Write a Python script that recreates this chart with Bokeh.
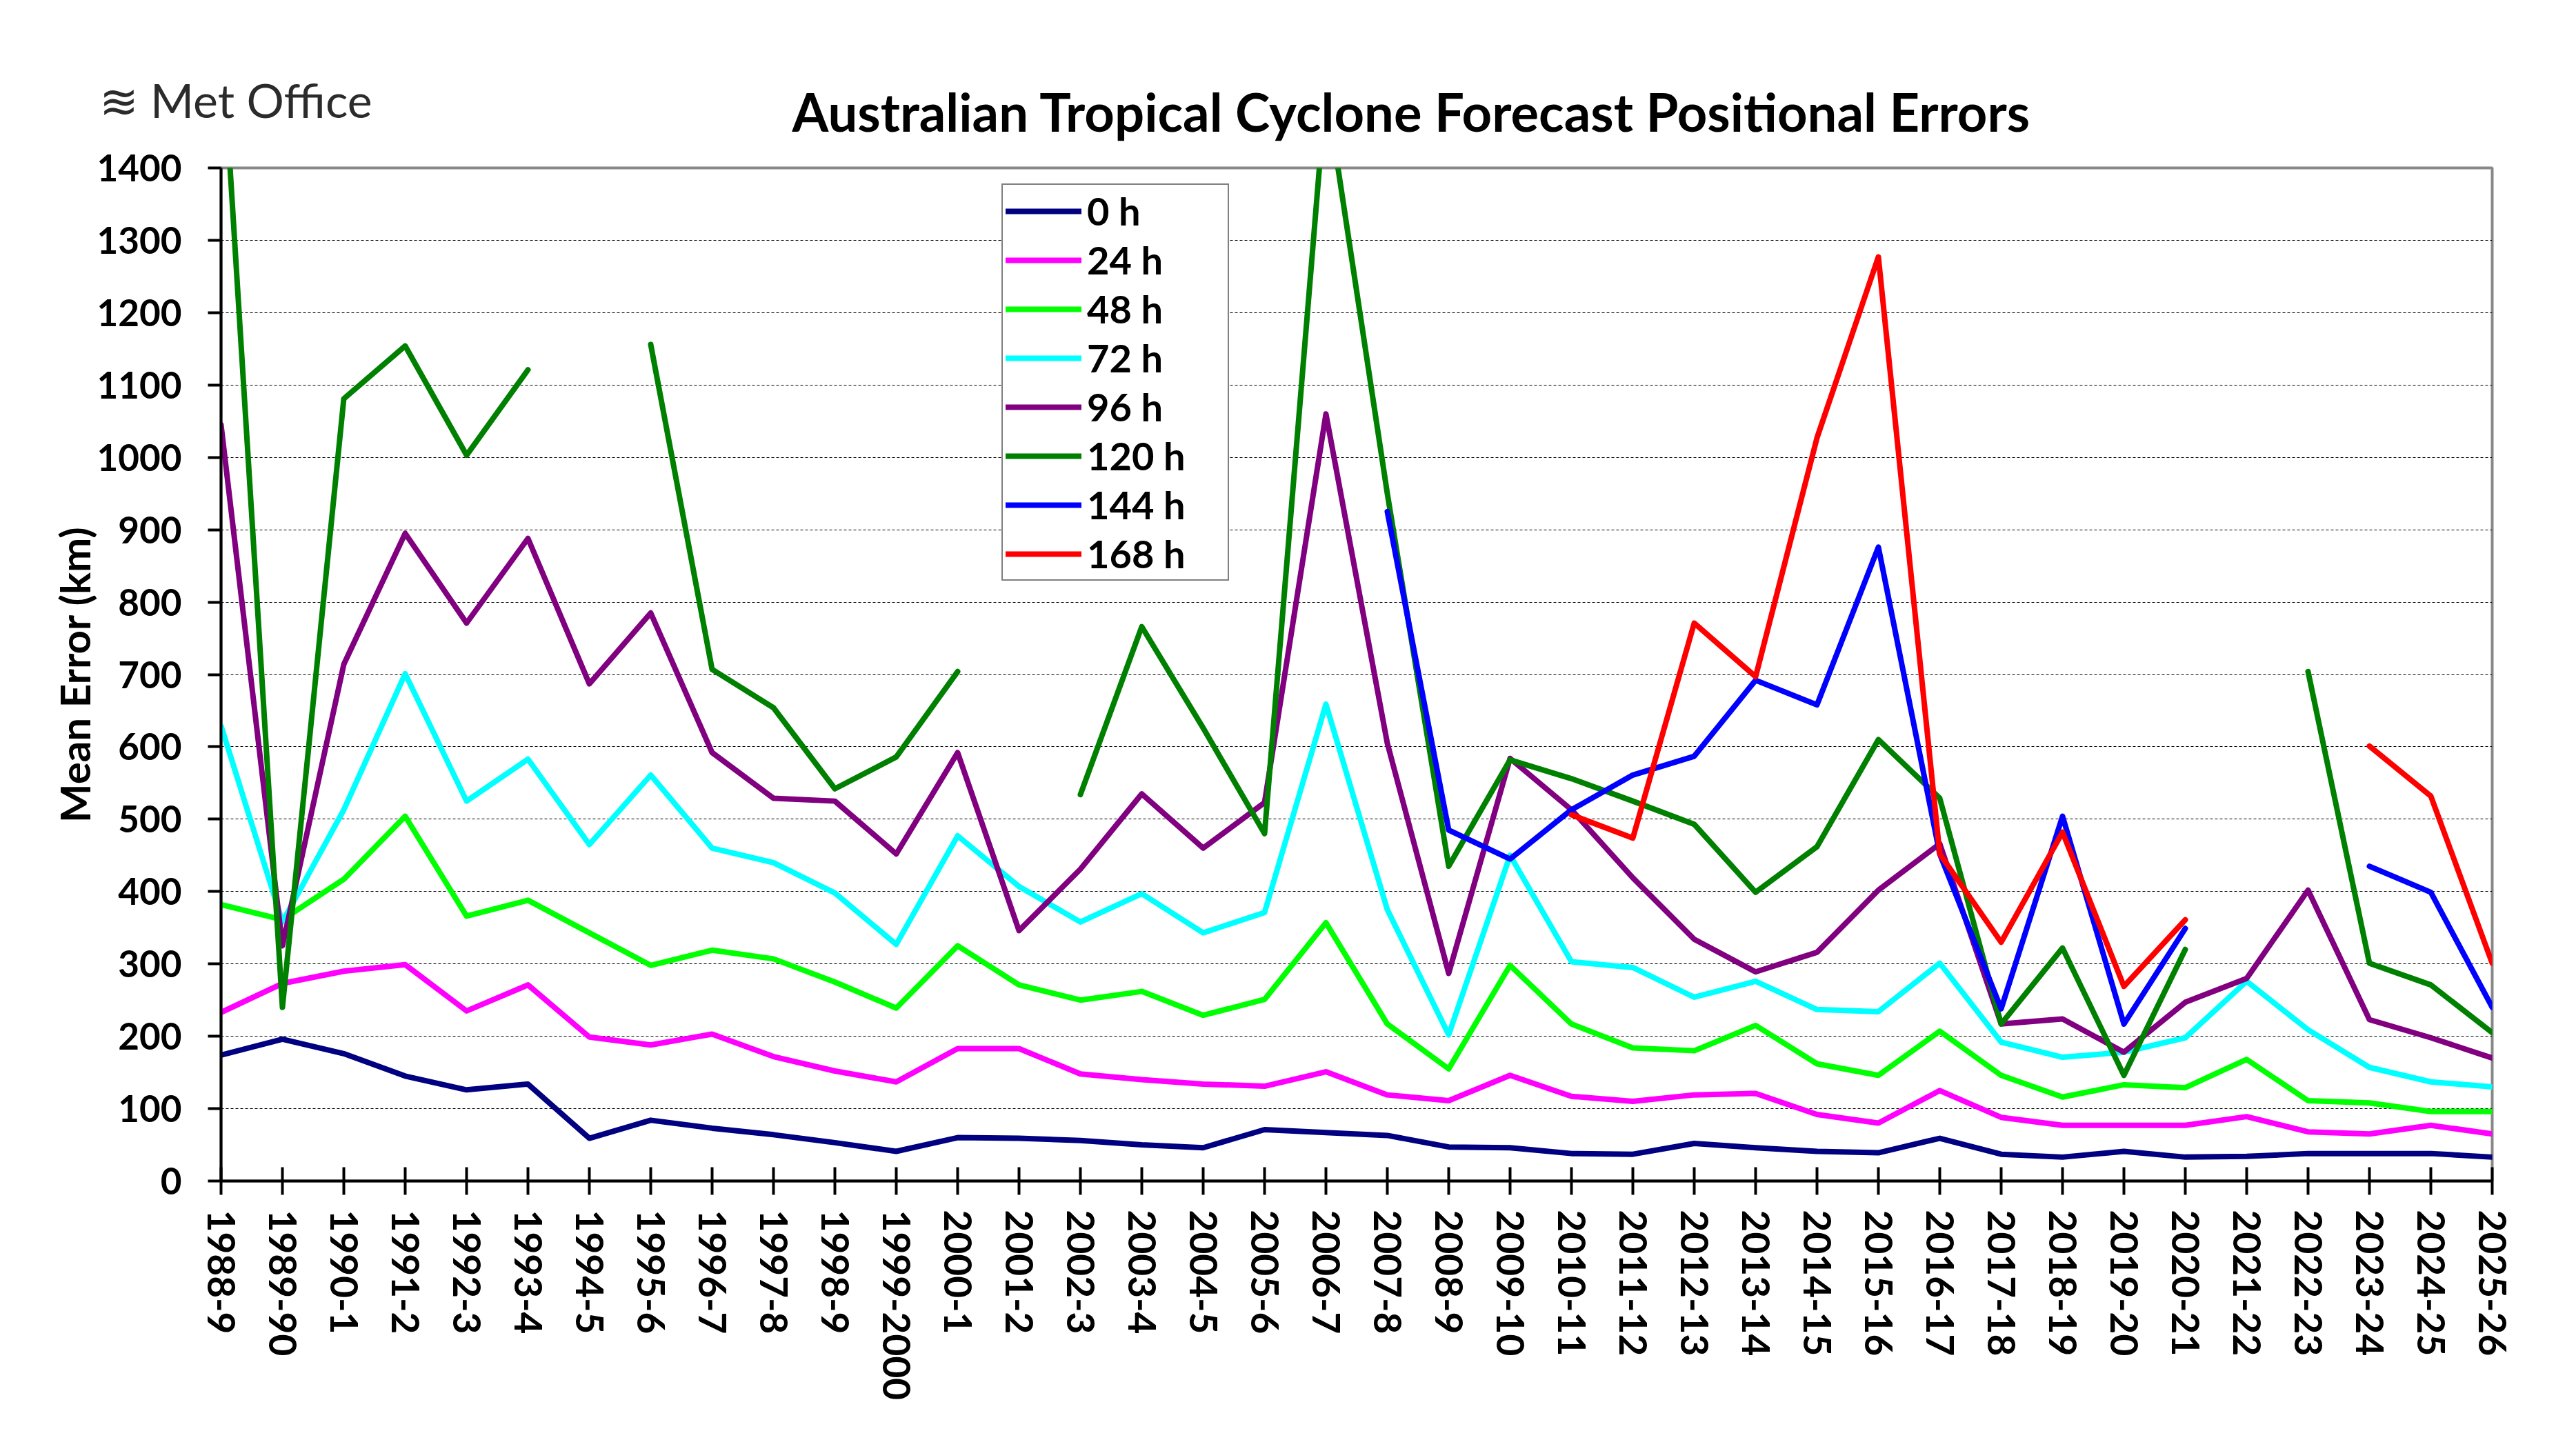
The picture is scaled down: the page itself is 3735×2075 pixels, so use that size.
import math
from bokeh.plotting import figure
from bokeh.models import Range1d, FixedTicker, Legend, LegendItem, Title, ColumnDataSource
from bokeh.embed import file_html
from bokeh.resources import INLINE

nan = float("nan")

seasons = ["1988-9", "1989-90", "1990-1", "1991-2", "1992-3", "1993-4", "1994-5",
           "1995-6", "1996-7", "1997-8", "1998-9", "1999-2000", "2000-1", "2001-2",
           "2002-3", "2003-4", "2004-5", "2005-6", "2006-7", "2007-8", "2008-9",
           "2009-10", "2010-11", "2011-12", "2012-13", "2013-14", "2014-15",
           "2015-16", "2016-17", "2017-18", "2018-19", "2019-20", "2020-21",
           "2021-22", "2022-23", "2023-24", "2024-25", "2025-26"]

err_0h = [174, 196, 176, 145, 126, 134, 59, 84, 73, 64, 53, 41, 60, 59, 56, 50, 46, 71, 67,
          63, 47, 46, 38, 37, 52, 46, 41, 39, 59, 37, 33, 41, 33, 34, 38, 38, 38, 33]
err_24h = [233, 273, 290, 299, 235, 271, 199, 188, 203, 172, 152, 137, 183, 183, 148, 140,
           134, 131, 151, 119, 111, 146, 117, 110, 119, 121, 92, 80, 125, 88, 77, 77, 77,
           89, 68, 65, 77, 65]
err_48h = [382, 361, 417, 504, 366, 388, 343, 298, 319, 307, 275, 239, 325, 271, 250, 262,
           229, 251, 357, 217, 155, 298, 217, 184, 180, 215, 162, 146, 207, 146, 116, 133,
           129, 168, 111, 108, 96, 96]
err_72h = [629, 358, 513, 701, 525, 583, 465, 561, 460, 440, 398, 327, 477, 407, 358, 397,
           343, 371, 659, 375, 202, 450, 303, 295, 254, 276, 237, 234, 301, 192, 171, 178,
           198, 276, 209, 157, 137, 130]
err_96h = [1045, 325, 714, 895, 771, 888, 687, 785, 592, 529, 525, 452, 592, 346, 431, 535,
           460, 523, 1060, 605, 287, 584, 513, 419, 334, 289, 316, 402, 466, 217, 224, 178,
           247, 280, 402, 223, 198, 170]
err_120h = [1600, 240, 1081, 1154, 1003, 1121, nan, 1156, 707, 654, 542, 586, 704, nan, 534,
            766, 626, 480, 1510, 950, 435, 582, 556, 525, 493, 399, 462, 610, 529, 217, 322,
            146, 320, nan, 704, 301, 271, 205]
err_144h = [nan] * 19 + [925, 485, 445, 513, 561, 587, 692, 658, 876, 452, 238, 504, 217,
                         349, nan, nan, 435, 399, 240]
err_168h = [nan] * 22 + [506, 474, 771, 697, 1027, 1277, 452, 330, 482, 269, 361, nan, nan,
                         601, 532, 301]

series_names = ["0 h", "24 h", "48 h", "72 h", "96 h", "120 h", "144 h", "168 h"]
series_values = [err_0h, err_24h, err_48h, err_72h, err_96h, err_120h, err_144h, err_168h]
series_colors = ["#000080", "#FF00FF", "#00FF00", "#00FFFF", "#800080", "#008000",
                 "#0000FF", "#FF0000"]

y_ticks = list(range(0, 1401, 100))

p = figure(width=3735, height=2075, output_backend="svg", toolbar_location=None,
           x_range=Range1d(0, len(seasons) - 1), y_range=Range1d(0, 1400),
           min_border_left=320, min_border_right=122, min_border_top=243,
           min_border_bottom=363, background_fill_color="white",
           border_fill_color="white", title_location=None)

p.outline_line_color = "#888888"
p.outline_line_width = 4

items = []
for name, vals, col in zip(series_names, series_values, series_colors):
    src = ColumnDataSource(dict(x=list(range(len(seasons))), y=vals))
    r = p.line("x", "y", source=src, line_color=col, line_width=8,
               line_join="round", line_cap="round")
    items.append(LegendItem(label=name, renderers=[r]))

legend = Legend(items=items, location=(1132, 870))
legend.label_text_font = "Lato"
legend.label_text_font_style = "bold"
legend.label_text_font_size = "56px"
legend.label_text_color = "black"
legend.border_line_color = "black"
legend.border_line_width = 2.5
legend.background_fill_color = "white"
legend.background_fill_alpha = 1.0
legend.glyph_width = 110
legend.glyph_height = 66
legend.label_height = 66
legend.label_standoff = 8
legend.spacing = 4
legend.padding = 4
legend.margin = 0
legend.label_width = 200
p.add_layout(legend)

# axes
xa = p.xaxis[0]
xa.ticker = FixedTicker(ticks=list(range(len(seasons))))
xa.major_label_overrides = {i: s for i, s in enumerate(seasons)}
xa.major_label_orientation = "vertical"
xa.major_label_text_font = "Lato"
xa.major_label_text_font_style = "bold"
xa.major_label_text_font_size = "55px"
xa.major_label_text_color = "black"
xa.major_label_standoff = 22
xa.axis_line_color = "black"
xa.axis_line_width = 4
xa.major_tick_in = 20
xa.major_tick_out = 20
xa.major_tick_line_width = 4
xa.major_tick_line_color = "black"
xa.minor_tick_line_color = None

ya = p.yaxis[0]
ya.ticker = FixedTicker(ticks=y_ticks)
ya.major_label_text_font = "Lato"
ya.major_label_text_font_style = "bold"
ya.major_label_text_font_size = "53px"
ya.major_label_text_color = "black"
ya.major_label_standoff = 38
ya.axis_line_color = "black"
ya.axis_line_width = 4
ya.major_tick_in = 0
ya.major_tick_out = 19
ya.major_tick_line_width = 4
ya.major_tick_line_color = "black"
ya.minor_tick_line_color = None
ya.axis_label = "Mean Error (km)"
ya.axis_label_text_font = "Lato"
ya.axis_label_text_font_style = "bold"
ya.axis_label_text_font_size = "60px"
ya.axis_label_text_color = "black"
ya.axis_label_standoff = -6

p.xgrid.visible = False
p.ygrid.grid_line_color = "black"
p.ygrid.grid_line_width = 1.2
p.ygrid.grid_line_dash = "4 3"

main_title = Title(text="Australian Tropical Cyclone Forecast Positional Errors",
                   text_font="Lato", text_font_style="bold", text_font_size="76px",
                   text_color="black", align="left", offset=828, standoff=74)
# Met Office logo (decorative text) in the header, left of the title
logo = Title(text="\u224b Met Office", text_font="Lato", text_font_style="normal",
             text_font_size="68px", text_color="#2b2b2b",
             align="left", offset=-177, standoff=-216)
p.add_layout(main_title, "above")
p.add_layout(logo, "above")

open("out.html", "w").write(file_html(p, INLINE))
